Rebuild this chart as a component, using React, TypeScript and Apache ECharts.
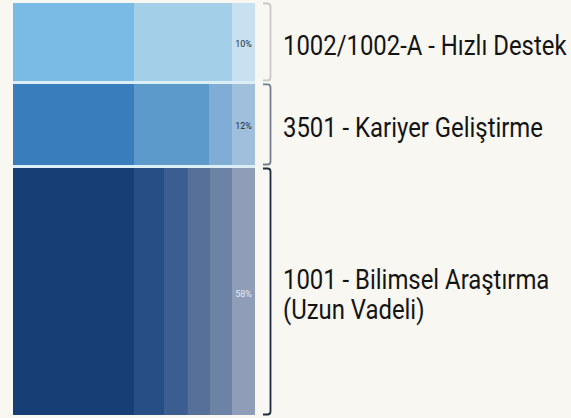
import React, { useEffect, useRef } from "react";
import * as echarts from "echarts";

// Row labels (top to bottom)
const rowNames = [
  "1002/1002-A - Hızlı Destek",
  "3501 - Kariyer Geliştirme",
  "1001 - Bilimsel Araştırma\n(Uzun Vadeli)",
];
// Relative row heights (share of total, %)
const rowShares = [19.5, 20.26, 60.24];
// Percentage tags shown in last segment
const rowPercents = ["10%", "12%", "58%"];
// Segment widths of each row (share of bar width, %)
const row1Segments = [50, 40.5, 9.5];
const row2Segments = [50, 31, 9.5, 9.5];
const row3Segments = [50, 12.4, 9.9, 9.1, 9.1, 9.5];
// Colours
const row1Colors = ["#79bbe4", "#a4cfe9", "#c7e1f1"];
const row2Colors = ["#3a7dbd", "#5d9acc", "#80add5", "#a0bfdc"];
const row3Colors = ["#173e75", "#274f86", "#3b5d90", "#57709a", "#6c83a6", "#8f9db9"];
const braceColors = ["#c9c9c9", "#73808f", "#1d2b3e"];
const percentColors = ["#2a2a2a", "#2a2a2a", "#e4e9f1"];

const rowSegments = [row1Segments, row2Segments, row3Segments];
const rowColors = [row1Colors, row2Colors, row3Colors];

export default function App() {
  const ref = useRef<HTMLDivElement>(null);
  useEffect(() => {
    if (!ref.current) return;
    const chart = echarts.init(ref.current, undefined, { renderer: "svg" });

    const rowBounds: [number, number][] = [];
    let acc = 0;
    rowShares.forEach((s) => {
      rowBounds.push([acc, acc + s]);
      acc += s;
    });

    const segData: any[] = [];
    rowSegments.forEach((segs, r) => {
      let x = 0;
      segs.forEach((w, i) => {
        segData.push({
          value: [x, x + w, rowBounds[r][0], rowBounds[r][1]],
          itemStyle: { color: rowColors[r][i] },
        });
        x += w;
      });
    });

    const braceData = rowBounds.map((b, r) => ({ value: [b[0], b[1], r] }));
    const INSET = 1.5;

    chart.setOption({
      animation: false,
      backgroundColor: "#f8f7f2",
      grid: { left: 13, right: 316, top: 1.5, bottom: 1.5 },
      xAxis: { type: "value", min: 0, max: 100, show: false },
      yAxis: { type: "value", min: 0, max: 100, inverse: true, show: false },
      series: [
        {
          type: "custom",
          silent: true,
          data: [{ value: [0, 100, 0, 100] }],
          renderItem: (params: any, api: any) => {
            const p0 = api.coord([api.value(0), api.value(2)]);
            const p1 = api.coord([api.value(1), api.value(3)]);
            return {
              type: "rect",
              shape: { x: p0[0], y: p0[1] + INSET, width: p1[0] - p0[0], height: p1[1] - p0[1] - 2 * INSET },
              style: { fill: "#dbeef6" },
            };
          },
        },
        {
          type: "custom",
          silent: true,
          data: segData,
          renderItem: (params: any, api: any) => {
            const p0 = api.coord([api.value(0), api.value(2)]);
            const p1 = api.coord([api.value(1), api.value(3)]);
            return {
              type: "rect",
              shape: {
                x: p0[0],
                y: p0[1] + INSET,
                width: p1[0] - p0[0],
                height: p1[1] - p0[1] - 2 * INSET,
              },
              style: { fill: api.visual("color") },
            };
          },
        },
        {
          type: "custom",
          silent: true,
          data: braceData,
          renderItem: (params: any, api: any) => {
            const r = api.value(2);
            const top = api.coord([100, api.value(0)]);
            const bot = api.coord([100, api.value(1)]);
            const right = top[0];
            const y0 = top[1] + INSET + 0.5;
            const y1 = bot[1] - INSET - 0.5;
            const x0 = right + 8;
            const x1 = right + 15.5;
            const rad = 3;
            const d = `M${x0} ${y0} L${x1 - rad} ${y0} Q${x1} ${y0} ${x1} ${y0 + rad} L${x1} ${y1 - rad} Q${x1} ${y1} ${x1 - rad} ${y1} L${x0} ${y1}`;
            const cy = (top[1] + bot[1]) / 2;
            const lastW = rowSegments[r][rowSegments[r].length - 1];
            const pc = api.coord([100 - lastW / 2, 0]);
            return {
              type: "group",
              children: [
                {
                  type: "path",
                  shape: { pathData: d },
                  style: { fill: "none", stroke: braceColors[r], lineWidth: 1.8 },
                },
                {
                  type: "text",
                  x: right + 28,
                  y: cy + 3,
                  scaleX: 0.853,
                  style: {
                    text: rowNames[r],
                    x: 0,
                    y: 0,
                    fill: "#141414",
                    fontFamily: "Roboto",
                    fontSize: 28,
                    lineHeight: 30,
                    verticalAlign: "middle",
                    align: "left",
                  },
                },
                {
                  type: "text",
                  style: {
                    text: rowPercents[r],
                    x: pc[0],
                    y: cy + 2,
                    fill: percentColors[r],
                    fontFamily: "Roboto",
                    fontSize: 9,
                    align: "center",
                    verticalAlign: "middle",
                  },
                },
              ],
            };
          },
        },
      ],
    });
    return () => chart.dispose();
  }, []);
  return (
    <div
      ref={ref}
      style={{ position: "fixed", left: 0, top: 0, width: 571, height: 418 }}
    />
  );
}
